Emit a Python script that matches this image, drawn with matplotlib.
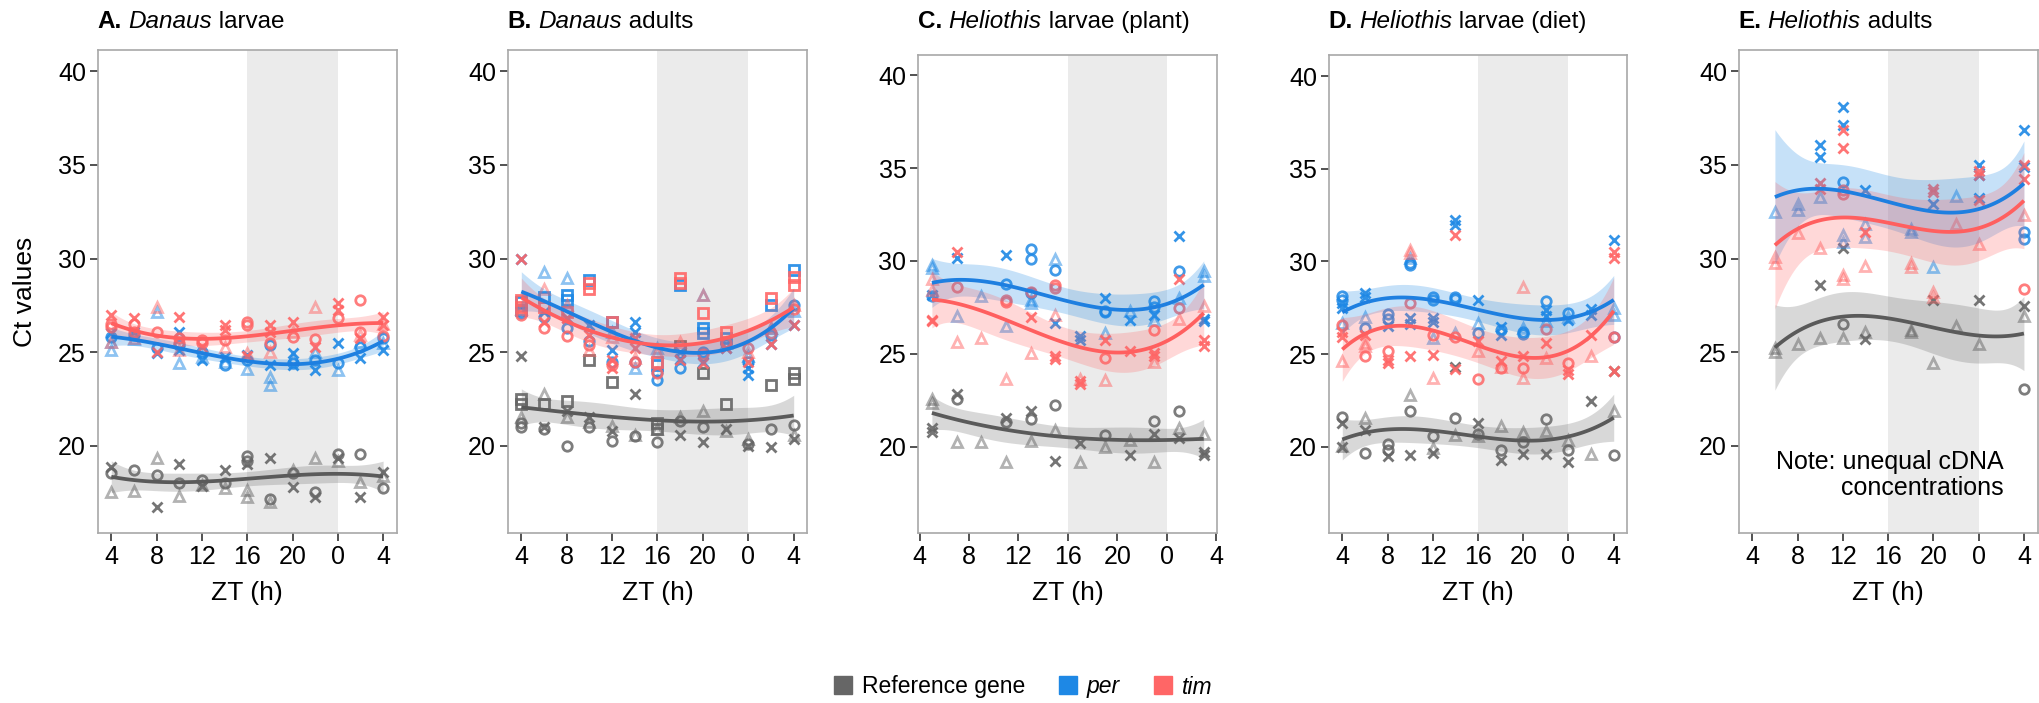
import numpy as np
import matplotlib
matplotlib.use("Agg")
import matplotlib.pyplot as plt
from matplotlib.lines import Line2D

plt.rcParams['font.family'] = ['Liberation Sans', 'DejaVu Sans']

# ---------------- data (x = ZT hour, y = Ct value, marker = replicate shape) ----------------
A_REF = [(4,18.84,'x'),(4,18.55,'o'),(4,17.53,'^'),(6,18.69,'o'),(6,17.57,'^'),
         (8,19.33,'^'),(8,18.42,'o'),(8,16.73,'x'),(10,19.0,'x'),(10,18.0,'o'),(10,17.3,'^'),
         (12,18.16,'o'),(12,17.85,'x'),(12,17.9,'^'),(14,18.7,'x'),(14,18.0,'o'),(14,17.74,'^'),
         (16,19.47,'o'),(16,19.2,'o'),(16,19.0,'x'),(16,17.64,'^'),(16,17.28,'^'),
         (18,19.33,'x'),(18,17.17,'o'),(18,17.0,'^'),(20,18.55,'o'),(20,18.7,'^'),(20,17.8,'x'),
         (22,19.33,'^'),(22,17.53,'o'),(22,17.28,'x'),(24,19.54,'o'),(24,19.33,'x'),(24,19.2,'^'),
         (26,19.54,'o'),(26,18.05,'^'),(26,17.28,'x'),(28,18.6,'x'),(28,18.38,'^'),(28,17.74,'o')]
A_PER = [(4,25.82,'o'),(4,26.0,'x'),(4,25.11,'^'),(4,25.55,'^'),(6,25.91,'o'),(6,26.05,'x'),(6,25.7,'^'),
         (8,24.93,'x'),(8,27.16,'^'),(8,25.2,'o'),(10,26.09,'x'),(10,25.11,'x'),(10,24.4,'^'),(10,25.38,'o'),
         (12,25.02,'o'),(12,24.58,'x'),(12,24.75,'^'),(14,24.31,'o'),(14,24.75,'x'),(14,24.49,'^'),
         (16,24.58,'o'),(16,24.84,'x'),(16,24.1,'^'),(18,25.38,'o'),(18,24.31,'x'),(18,23.69,'^'),(18,23.24,'^'),
         (20,24.4,'o'),(20,24.93,'x'),(20,24.3,'x'),(20,24.67,'^'),(22,24.58,'o'),(22,24.04,'x'),(22,25.02,'^'),
         (24,24.4,'o'),(24,25.47,'x'),(24,24.04,'^'),(26,25.29,'o'),(26,24.67,'x'),(26,25.55,'^'),
         (28,25.73,'o'),(28,25.11,'x'),(28,25.47,'^')]
A_TIM = [(4,26.53,'o'),(4,26.36,'o'),(4,26.98,'x'),(4,25.55,'^'),(6,26.53,'o'),(6,26.09,'o'),(6,26.8,'x'),(6,25.73,'^'),
         (8,26.09,'o'),(8,25.02,'x'),(8,27.42,'^'),(10,25.73,'o'),(10,25.47,'o'),(10,26.89,'x'),(10,25.1,'^'),
         (12,25.64,'o'),(12,25.47,'o'),(12,25.3,'x'),(14,25.64,'o'),(14,26.44,'x'),(14,26.18,'x'),(14,25.29,'^'),
         (16,26.62,'o'),(16,26.44,'o'),(16,24.93,'^'),(16,24.8,'x'),(18,25.47,'o'),(18,26.44,'x'),(18,26.09,'x'),(18,25.02,'^'),
         (20,25.82,'o'),(20,26.59,'x'),(20,26.09,'^'),(22,25.7,'o'),(22,25.29,'x'),(22,27.42,'^'),
         (24,26.8,'o'),(24,27.6,'x'),(24,27.25,'x'),(26,27.78,'o'),(26,26.09,'o'),(26,25.73,'x'),(26,25.9,'^'),
         (28,25.88,'o'),(28,26.89,'x'),(28,26.44,'x'),(28,26.53,'^')]

B_REF = [(4,24.77,'x'),(4,22.49,'s'),(4,22.24,'s'),(4,21.54,'^'),(4,21.0,'o'),(4,21.2,'o'),
         (6,22.74,'^'),(6,22.24,'s'),(6,21.0,'x'),(6,20.9,'o'),(8,22.38,'s'),(8,21.54,'^'),(8,21.86,'x'),(8,20.0,'o'),
         (10,24.6,'s'),(10,21.54,'x'),(10,21.0,'o'),(10,21.27,'^'),(12,23.38,'s'),(12,20.8,'x'),(12,20.27,'o'),(12,21.05,'^'),
         (14,22.74,'x'),(14,20.59,'^'),(14,20.53,'o'),(16,21.22,'s'),(16,20.9,'s'),(16,20.21,'o'),(16,20.9,'^'),
         (18,25.34,'s'),(18,20.59,'x'),(18,21.3,'o'),(18,21.54,'^'),(20,23.86,'s'),(20,21.86,'^'),(20,21.0,'o'),(20,20.21,'x'),
         (22,22.24,'s'),(22,20.9,'x'),(22,20.8,'^'),(24,20.0,'x'),(24,20.38,'^'),(24,20.1,'o'),
         (26,23.23,'s'),(26,20.9,'o'),(26,19.96,'x'),(28,23.86,'s'),(28,23.55,'s'),(28,21.1,'o'),(28,20.38,'x'),(28,20.59,'^')]
B_PER = [(4,27.69,'s'),(4,27.24,'s'),(4,30.0,'x'),(4,27.07,'o'),(6,29.29,'^'),(6,27.96,'s'),(6,27.16,'x'),(6,26.9,'o'),
         (8,28.97,'^'),(8,28.05,'s'),(8,27.78,'s'),(8,26.27,'o'),(8,26.8,'x'),(10,28.85,'s'),(10,26.44,'x'),(10,25.6,'o'),
         (12,25.11,'x'),(12,26.09,'^'),(12,24.5,'o'),(12,26.6,'s'),(14,26.62,'x'),(14,26.09,'x'),(14,24.49,'o'),(14,24.13,'^'),
         (16,25.2,'^'),(16,23.95,'o'),(16,23.51,'o'),(16,24.3,'s'),(18,28.58,'s'),(18,24.13,'o'),(18,24.66,'x'),(18,25.0,'x'),
         (20,26.27,'s'),(20,26.0,'s'),(20,28.05,'^'),(20,24.49,'x'),(20,25.0,'o'),(22,25.46,'o'),(22,25.2,'x'),(22,25.73,'s'),(22,25.5,'^'),
         (24,23.77,'x'),(24,24.13,'x'),(24,24.49,'o'),(24,24.8,'^'),(26,27.51,'s'),(26,25.46,'x'),(26,25.91,'o'),(26,26.3,'^'),
         (28,29.38,'s'),(28,27.51,'o'),(28,26.44,'x'),(28,27.2,'^')]
B_TIM = [(4,30.0,'x'),(4,27.78,'s'),(4,27.42,'s'),(4,26.98,'o'),(4,27.3,'^'),(6,28.4,'^'),(6,27.42,'s'),(6,26.62,'x'),(6,26.27,'o'),
         (8,27.16,'s'),(8,26.8,'x'),(8,25.87,'o'),(8,27.5,'^'),(10,28.67,'s'),(10,28.4,'s'),(10,25.91,'x'),(10,25.38,'o'),(10,25.1,'^'),
         (12,26.62,'s'),(12,24.58,'x'),(12,24.13,'x'),(12,24.3,'o'),(12,25.8,'^'),(14,25.73,'x'),(14,25.2,'x'),(14,24.49,'o'),(14,24.7,'^'),
         (16,24.49,'s'),(16,23.86,'o'),(16,25.0,'^'),(18,28.94,'s'),(18,28.67,'s'),(18,25.55,'^'),(18,24.58,'x'),
         (20,28.05,'^'),(20,27.07,'s'),(20,24.4,'x'),(20,24.9,'o'),(22,26.09,'s'),(22,25.2,'x'),(22,25.5,'o'),
         (24,25.2,'o'),(24,24.49,'x'),(24,25.0,'^'),(26,27.87,'s'),(26,25.46,'x'),(26,26.0,'o'),(26,26.3,'^'),
         (28,29.0,'s'),(28,28.58,'s'),(28,26.44,'x'),(28,27.3,'o'),(28,27.5,'^')]

C_REF = [(5,22.58,'^'),(5,22.36,'^'),(5,20.98,'x'),(5,20.77,'x'),(7,22.83,'x'),(7,22.58,'o'),(7,20.23,'^'),(9,20.23,'^'),
         (11,21.56,'x'),(11,21.34,'o'),(11,19.17,'^'),(13,21.94,'x'),(13,21.47,'o'),(13,20.28,'^'),
         (15,22.26,'o'),(15,20.87,'^'),(15,19.21,'x'),(17,20.19,'x'),(17,19.17,'^'),(19,20.6,'o'),(19,19.96,'^'),
         (21,20.34,'^'),(21,19.53,'x'),(23,21.4,'o'),(23,20.7,'x'),(23,19.17,'^'),(25,21.94,'o'),(25,20.98,'^'),(25,20.45,'x'),
         (27,20.66,'^'),(27,19.7,'x'),(27,19.55,'x')]
C_PER = [(5,29.81,'^'),(5,29.63,'^'),(5,28.19,'x'),(5,28.1,'o'),(7,30.17,'x'),(7,27.06,'^'),(9,28.14,'^'),
         (11,30.35,'x'),(11,28.78,'o'),(11,26.48,'^'),(13,30.62,'o'),(13,30.13,'o'),(13,27.71,'^'),(13,27.92,'^'),(13,28.3,'o'),
         (15,30.13,'^'),(15,29.54,'o'),(15,26.66,'x'),(17,25.94,'x'),(17,25.76,'x'),(19,28.01,'x'),(19,27.24,'o'),(19,27.3,'o'),(19,26.12,'^'),
         (21,27.29,'^'),(21,26.84,'x'),(23,27.83,'o'),(23,27.53,'o'),(23,27.11,'x'),(23,26.84,'^'),
         (25,31.37,'x'),(25,29.45,'o'),(25,28.01,'^'),(27,29.45,'^'),(27,29.18,'^'),(27,26.88,'x'),(27,26.75,'x')]
C_TIM = [(5,29.03,'^'),(5,28.46,'^'),(5,26.84,'x'),(5,26.75,'x'),(7,30.47,'x'),(7,28.6,'o'),(7,25.64,'^'),(9,25.85,'^'),
         (11,27.78,'o'),(11,27.9,'o'),(11,23.66,'^'),(13,28.32,'o'),(13,26.99,'x'),(13,25.05,'^'),
         (15,28.73,'o'),(15,28.55,'o'),(15,27.11,'^'),(15,24.87,'x'),(15,24.7,'x'),(17,23.52,'x'),(17,23.39,'x'),(17,23.64,'^'),
         (19,25.76,'x'),(19,24.78,'o'),(19,23.61,'^'),(21,25.17,'x'),(23,26.27,'o'),(23,25.05,'x'),(23,24.87,'x'),(23,24.54,'^'),
         (25,27.47,'o'),(25,26.88,'^'),(25,29.03,'x'),(27,27.6,'^'),(27,25.76,'x'),(27,25.44,'x')]

D_REF = [(4,21.62,'o'),(4,21.26,'x'),(4,20.02,'^'),(4,19.98,'x'),(6,21.55,'^'),(6,20.92,'x'),(6,19.64,'o'),
         (8,20.13,'o'),(8,19.8,'o'),(8,19.49,'x'),(10,22.79,'^'),(10,21.9,'o'),(10,19.55,'x'),
         (12,20.55,'o'),(12,19.91,'^'),(12,19.64,'x'),(14,24.28,'x'),(14,21.55,'o'),(14,20.62,'^'),
         (16,21.26,'x'),(16,20.66,'o'),(16,20.6,'^'),(18,21.09,'^'),(18,19.8,'o'),(18,19.28,'x'),
         (20,20.77,'^'),(20,20.23,'o'),(20,19.6,'x'),(22,21.47,'o'),(22,20.83,'^'),(22,19.6,'x'),
         (24,20.34,'^'),(24,19.8,'o'),(24,19.17,'x'),(26,22.47,'x'),(26,19.6,'^'),(28,24.07,'x'),(28,21.94,'^'),(28,19.53,'o')]
D_PER = [(4,28.14,'o'),(4,27.92,'o'),(4,27.74,'x'),(4,27.47,'x'),(4,26.66,'^'),(6,28.28,'x'),(6,28.07,'x'),(6,27.02,'^'),(6,26.39,'o'),
         (8,27.17,'o'),(8,26.88,'o'),(8,26.52,'x'),(10,29.93,'o'),(10,29.81,'o'),(10,26.93,'x'),(10,26.63,'x'),(10,30.2,'^'),
         (12,28.1,'o'),(12,27.92,'o'),(12,26.93,'x'),(12,26.75,'x'),(12,25.86,'^'),
         (14,32.23,'x'),(14,31.96,'x'),(14,28.1,'o'),(14,27.96,'o'),(14,26.12,'^'),(16,27.92,'x'),(16,26.66,'^'),(16,26.12,'o'),
         (18,26.48,'x'),(18,26.3,'o'),(18,26.03,'x'),(20,26.21,'o'),(20,26.09,'o'),(20,26.4,'^'),
         (22,27.87,'o'),(22,27.38,'x'),(22,27.06,'x'),(22,26.8,'^'),(24,27.24,'o'),(24,26.84,'x'),(24,27.0,'^'),
         (26,27.42,'x'),(26,27.11,'x'),(28,31.16,'x'),(28,27.47,'^'),(28,27.11,'^'),(28,25.94,'o')]
D_TIM = [(4,26.57,'o'),(4,26.21,'x'),(4,25.94,'x'),(4,24.6,'^'),(6,24.87,'o'),(6,26.03,'x'),(6,25.41,'^'),(6,25.6,'^'),
         (8,25.14,'o'),(8,24.51,'x'),(8,24.7,'x'),(10,30.62,'^'),(10,30.44,'^'),(10,27.74,'o'),(10,24.87,'x'),
         (12,26.03,'o'),(12,24.96,'x'),(12,23.7,'^'),(14,31.43,'x'),(14,25.94,'o'),(14,24.2,'x'),
         (16,23.65,'o'),(16,25.14,'^'),(16,25.7,'x'),(18,24.6,'x'),(18,24.24,'o'),(18,24.3,'^'),
         (20,28.64,'^'),(20,24.87,'x'),(20,24.27,'o'),(20,23.7,'^'),(22,26.34,'o'),(22,25.59,'x'),(22,24.78,'^'),
         (24,24.54,'o'),(24,24.15,'x'),(24,23.9,'x'),(26,26.03,'x'),(26,24.87,'^'),
         (28,30.53,'x'),(28,30.17,'x'),(28,25.94,'o'),(28,24.06,'x')]

E_REF = [(6,25.02,'^'),(6,25.2,'^'),(8,25.44,'^'),(10,28.61,'x'),(10,25.76,'^'),(12,30.55,'x'),(12,26.5,'o'),(12,25.76,'^'),
         (14,26.08,'^'),(14,25.7,'x'),(18,26.08,'^'),(18,26.2,'^'),(20,27.76,'x'),(20,24.43,'^'),(22,26.39,'^'),
         (24,27.76,'x'),(24,25.44,'^'),(28,27.45,'x'),(28,26.92,'^'),(28,23.02,'o')]
E_PER = [(6,32.49,'^'),(8,32.94,'^'),(8,32.58,'^'),(10,36.05,'x'),(10,35.43,'x'),(10,33.29,'^'),
         (12,38.1,'x'),(12,37.16,'x'),(12,34.1,'o'),(12,31.25,'^'),(12,30.89,'^'),(14,33.65,'x'),(14,31.87,'^'),(14,31.16,'^'),
         (18,31.6,'^'),(18,31.43,'^'),(20,32.94,'x'),(20,29.56,'^'),(22,33.35,'^'),
         (24,35.02,'x'),(24,34.45,'x'),(24,33.24,'x'),(28,36.85,'x'),(28,34.9,'x'),(28,31.43,'o'),(28,31.02,'o')]
E_TIM = [(6,30.09,'^'),(6,29.77,'^'),(8,31.34,'^'),(10,34.06,'x'),(10,33.74,'x'),(10,30.54,'^'),
         (12,36.85,'x'),(12,35.88,'x'),(12,33.65,'o'),(12,33.47,'o'),(12,29.11,'^'),(12,28.9,'^'),(14,31.43,'x'),(14,29.61,'^'),
         (18,29.74,'^'),(18,29.56,'^'),(20,33.74,'x'),(20,33.56,'x'),(20,28.22,'^'),(20,27.96,'^'),(22,31.87,'^'),
         (24,34.66,'x'),(24,34.45,'x'),(24,33.12,'x'),(24,30.8,'^'),(28,34.99,'x'),(28,34.24,'x'),(28,32.32,'^'),(28,28.4,'o')]

PANEL_LETTERS = ['A.', 'B.', 'C.', 'D.', 'E.']
PANEL_GENUS = ['Danaus', 'Danaus', 'Heliothis', 'Heliothis', 'Heliothis']
PANEL_REST = [' larvae', ' adults', ' larvae (plant)', ' larvae (diet)', ' adults']
PANEL_DATA = [(A_REF, A_PER, A_TIM), (B_REF, B_PER, B_TIM), (C_REF, C_PER, C_TIM),
              (D_REF, D_PER, D_TIM), (E_REF, E_PER, E_TIM)]
GENES = ['Reference gene', 'per', 'tim']
X_TICKS = [4, 8, 12, 16, 20, 24, 28]
X_TICK_LABELS = ['4', '8', '12', '16', '20', '0', '4']
Y_TICKS = [20, 25, 30, 35, 40]
NIGHT = (16, 24)

# ---------------- styles ----------------
COLORS = ['#666666', '#1E88E5', '#FF6666']
LINE_COLORS = ['#5A5A5A', '#1E7FE0', '#FF5F5F']
ALPHA = {'o': 0.85, 'x': 0.9, '^': 0.5, 's': 0.9}
MS = {'o': 6.8, 'x': 6.8, '^': 7.2, 's': 6.5}

W, H = 2039, 703
BOXES = [(97.7, 396.7, 50.2, 532.8), (507.7, 807.3, 50.2, 532.8), (918.3, 1217.3, 54.5, 532.8),
         (1328.7, 1627.3, 55.3, 532.8), (1738.7, 2037.5, 50.2, 532.8)]
XLIMS = [(2.8, 29.2), (2.8, 29.2), (3.9, 28.1), (2.8, 29.2), (2.8, 29.2)]
YLIM = (15.35, 41.13)


def tq(df):
    return 1.96 + 2.37 / df + 2.8 / df ** 2


def poly_smooth(x, y, xg, deg=3):
    """Least-squares polynomial smooth with 95% confidence band."""
    x = np.asarray(x, float); y = np.asarray(y, float)
    c, s = x.mean(), x.std()
    X = np.vander((x - c) / s, deg + 1)
    Xg = np.vander((xg - c) / s, deg + 1)
    beta, *_ = np.linalg.lstsq(X, y, rcond=None)
    res = y - X @ beta
    df = len(x) - (deg + 1)
    sigma2 = res @ res / df
    cov = np.linalg.inv(X.T @ X) * sigma2
    fit = Xg @ beta
    se = np.sqrt(np.einsum('ij,jk,ik->i', Xg, cov, Xg))
    t = tq(df)
    return fit, fit - t * se, fit + t * se


fig = plt.figure(figsize=(W / 100, H / 100), dpi=100)
renderer = fig.canvas.get_renderer()

for p, (box, xl, genes) in enumerate(zip(BOXES, XLIMS, PANEL_DATA)):
    l, r, t, b = box
    ax = fig.add_axes([l / W, 1 - b / H, (r - l) / W, (b - t) / H])
    ax.axvspan(NIGHT[0], NIGHT[1], color='#EBEBEB', lw=0, zorder=0)
    for g, pts in enumerate(genes):
        xs = np.array([q[0] for q in pts], float)
        ys = np.array([q[1] for q in pts], float)
        ms = [q[2] for q in pts]
        for mk in ['^', 'o', 's', 'x']:
            sel = [i for i, m in enumerate(ms) if m == mk]
            if not sel:
                continue
            ax.plot(xs[sel], ys[sel], ls='none', marker=mk, ms=MS[mk], mfc='none',
                    mec=COLORS[g], mew=2.0, alpha=ALPHA[mk], zorder=2)
    for g, pts in enumerate(genes):
        xs = np.array([q[0] for q in pts], float)
        ys = np.array([q[1] for q in pts], float)
        xg = np.linspace(xs.min(), xs.max(), 120)
        fit, lo, hi = poly_smooth(xs, ys, xg)
        ax.fill_between(xg, lo, hi, color=COLORS[g], alpha=0.25, lw=0, zorder=3)
        ax.plot(xg, fit, color=LINE_COLORS[g], lw=2.7, zorder=4, solid_capstyle='butt')
    ax.set_xlim(*xl)
    ax.set_ylim(*YLIM)
    ax.set_xticks(X_TICKS)
    ax.set_xticklabels(X_TICK_LABELS)
    ax.set_yticks(Y_TICKS)
    ax.tick_params(axis='both', labelsize=18, length=6, width=1.2, color='#333333',
                   labelcolor='black', pad=2.5)
    for sp in ax.spines.values():
        sp.set_color('#A8A8A8'); sp.set_linewidth(1.2)
    fig.text(((l + r) / 2) / W, 1 - 593 / H, 'ZT (h)', ha='center', va='center', fontsize=19)
    x0 = l / W; yt = 1 - 22 / H
    t1 = fig.text(x0, yt, PANEL_LETTERS[p], fontsize=17.5, fontweight='bold', va='center', ha='left')
    e1 = t1.get_window_extent(renderer)
    t2 = fig.text((e1.x1 + 6) / W, yt, PANEL_GENUS[p], fontsize=17.5, style='italic', va='center', ha='left')
    e2 = t2.get_window_extent(renderer)
    fig.text(e2.x1 / W, yt, PANEL_REST[p], fontsize=17.5, va='center', ha='left')

fig.text(25 / W, 1 - 292 / H, 'Ct values', rotation=90, ha='center', va='center', fontsize=19)

fig.text(2004 / W, 1 - 475 / H, 'Note: unequal cDNA\nconcentrations', ha='right', va='center',
         fontsize=18, linespacing=1.1)

handles = [Line2D([], [], ls='none', marker='s', ms=13, mfc=c, mec=c) for c in COLORS]
leg = fig.legend(handles, GENES, loc='center', bbox_to_anchor=(1022 / W, 1 - 687 / H), ncol=3,
                 frameon=False, fontsize=16.5, handletextpad=0.3, columnspacing=1.4, handlelength=1.0)
leg.get_texts()[1].set_style('italic')
leg.get_texts()[2].set_style('italic')

fig.savefig('out.png', dpi=100)
